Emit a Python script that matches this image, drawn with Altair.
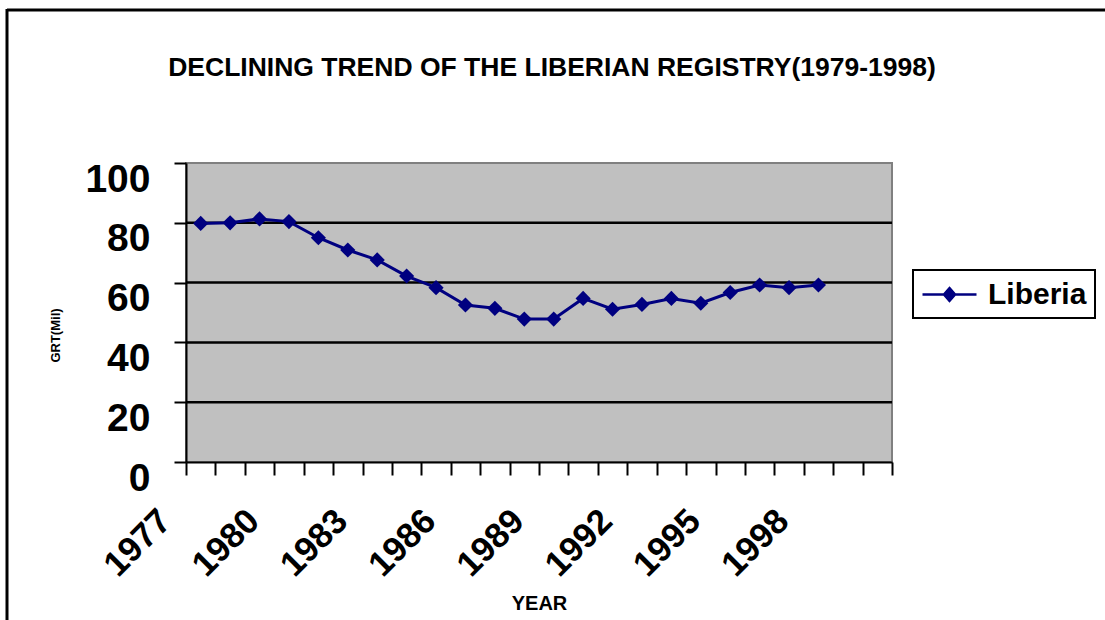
import altair as alt
import pandas as pd

# ---- data ----
years = [str(y) for y in range(1977, 1999)]
grt = [79.8, 80.0, 81.3, 80.4, 75.0, 70.9, 67.6, 62.2, 58.3, 52.5, 51.4,
       47.8, 47.8, 54.7, 51.1, 52.7, 54.7, 53.1, 56.7, 59.2, 58.3, 59.2]
axis_years = [str(y) for y in range(1977, 2001)]
y_ticks = [0, 20, 40, 60, 80, 100]
grid_vals = [20, 40, 60, 80]
series_name = "Liberia"
title_text = "DECLINING TREND OF THE LIBERIAN REGISTRY(1979-1998)"

FONT = "Liberation Sans"
NAVY = "#000080"

df = pd.DataFrame({"year": years, "grt": grt})
grid_df = pd.DataFrame({"grt": grid_vals})
one = pd.DataFrame({"a": [0]})

y_scale = alt.Scale(domain=[0, 100], nice=False)
y_axis = alt.Axis(
    values=y_ticks,
    labelFont=FONT, labelFontSize=39, labelFontWeight="bold", labelColor="black",
    labelPadding=24, labelOffset=16,
    tickSize=12, tickWidth=2, tickColor="black",
    domainColor="black", domainWidth=2, grid=False,
    title="GRT(Mil)", titleFont=FONT, titleFontSize=13, titleFontWeight="bold",
    titleColor="black", titleX=-131, titleY=172, titleAngle=-90,
    titleAlign="center", titleBaseline="middle",
)

x_enc = alt.X(
    "year:O",
    scale=alt.Scale(domain=axis_years, paddingInner=0, paddingOuter=0),
    axis=alt.Axis(
        labelExpr="(toNumber(datum.value) - 1977) % 3 == 0 ? datum.value : ''",
        labelAngle=-45, labelAlign="right", labelBaseline="middle",
        labelFont=FONT, labelFontSize=35, labelFontWeight="bold", labelColor="black",
        labelOffset=-36, labelPadding=40, labelOverlap=False,
        tickBand="extent", tickSize=13, tickWidth=2, tickColor="black",
        domainColor="black", domainWidth=2, grid=False,
        title="YEAR", titleFont=FONT, titleFontSize=20, titleFontWeight="bold",
        titleColor="black", titleY=141, titleBaseline="middle",
    ),
)

grid = alt.Chart(grid_df).mark_rule(color="black", strokeWidth=2.5).encode(
    y=alt.Y("grt:Q", scale=y_scale, axis=y_axis)
)

line = alt.Chart(df).mark_line(
    strokeWidth=3,
    point=alt.OverlayMarkDef(shape="diamond", size=230, filled=True, color=NAVY),
).encode(
    x=x_enc,
    y=alt.Y("grt:Q", scale=y_scale, axis=y_axis),
    color=alt.Color(
        "series:N",
        scale=alt.Scale(domain=[series_name], range=[NAVY]),
        legend=alt.Legend(
            title="",
            orient="none", legendX=727, legendY=107,
            symbolType="M-1.8,0L1.8,0M0,-0.43L0.37,0L0,0.43L-0.37,0Z",
            symbolSize=900, symbolStrokeWidth=2.5, symbolOffset=12,
            symbolFillColor=NAVY, symbolStrokeColor=NAVY,
            labelFont=FONT, labelFontSize=30, labelFontWeight="bold",
            labelColor="black", labelOffset=22,
            strokeColor="black", fillColor="white", padding=8,
        ),
    ),
).transform_calculate(series=f"'{series_name}'")

title = alt.Chart(one).mark_text(
    font=FONT, fontSize=26.5, fontWeight="bold", color="black",
    align="center", baseline="middle",
).encode(x=alt.value(366), y=alt.value(-95), text=alt.value(title_text))

border_top = alt.Chart(one).mark_rule(color="black", strokeWidth=3).encode(
    x=alt.value(-179), x2=alt.value(930), y=alt.value(-153)
)
border_left = alt.Chart(one).mark_rule(color="black", strokeWidth=3).encode(
    x=alt.value(-179), y=alt.value(-154), y2=alt.value(470)
)

chart = alt.layer(grid, line, title, border_top, border_left).properties(
    width=706, height=299,
    autosize=alt.AutoSizeParams(type="none"),
    padding={"left": 186, "top": 163, "right": 213, "bottom": 158},
    background="white",
).configure_view(
    fill="#C0C0C0", stroke="#808080", strokeWidth=2
).configure_legend(
    strokeWidth=2
)

chart.save("out.html", embed_options={"renderer": "svg", "actions": False})
